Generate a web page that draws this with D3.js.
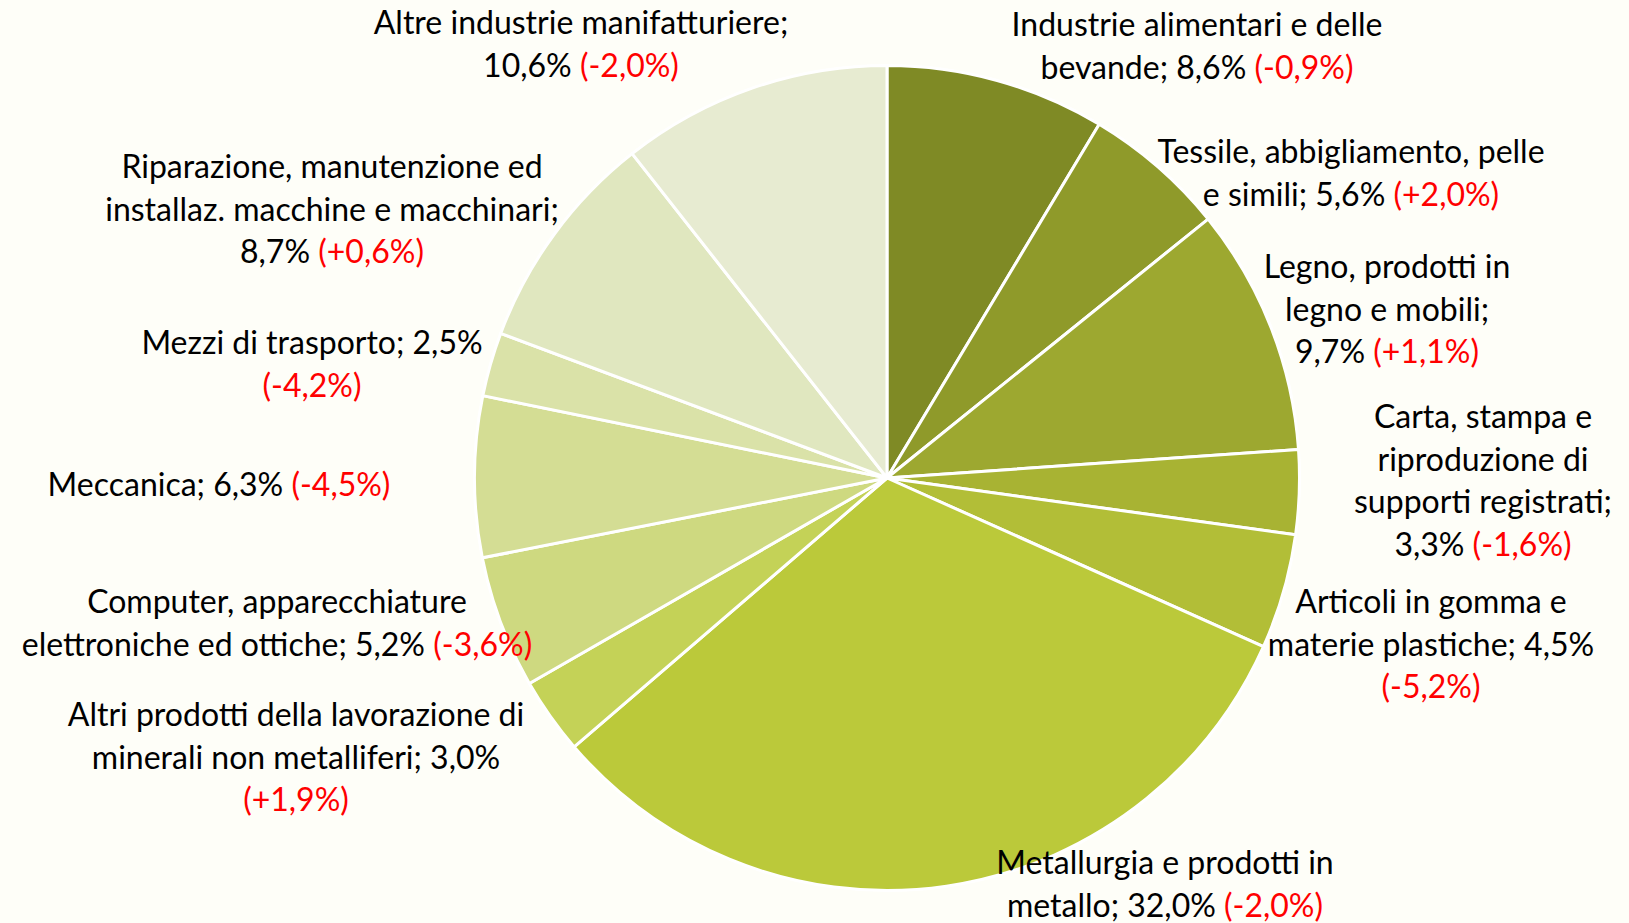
<!DOCTYPE html>
<html>
<head>
<meta charset="utf-8">
<script src="https://cdn.jsdelivr.net/npm/d3@7"></script>
<style>
  html, body { margin: 0; padding: 0; background: #FEFEF8; }
  svg { display: block; }
</style>
</head>
<body>
<svg id="chart" width="1629" height="923"></svg>
<script>
// ---- data ----
const categories = [
  "Industrie alimentari e delle bevande",
  "Tessile, abbigliamento, pelle e simili",
  "Legno, prodotti in legno e mobili",
  "Carta, stampa e riproduzione di supporti registrati",
  "Articoli in gomma e materie plastiche",
  "Metallurgia e prodotti in metallo",
  "Altri prodotti della lavorazione di minerali non metalliferi",
  "Computer, apparecchiature elettroniche ed ottiche",
  "Meccanica",
  "Mezzi di trasporto",
  "Riparazione, manutenzione ed installaz. macchine e macchinari",
  "Altre industrie manifatturiere"
];
const shares  = [8.6, 5.6, 9.7, 3.3, 4.5, 32.0, 3.0, 5.2, 6.3, 2.5, 8.7, 10.6];
const changes = [-0.9, 2.0, 1.1, -1.6, -5.2, -2.0, 1.9, -3.6, -4.5, -4.2, 0.6, -2.0];
const colors = ["#7F8A25", "#8F9A2A", "#9DA830", "#A8B333", "#B2BE37", "#BBC93A",
                "#C4D257", "#CED980", "#D4DD94", "#DAE2A8", "#E0E7BF", "#E7EBD1"];
// words per label line
const lineWordCounts = [[4,3],[3,4],[3,3,2],[3,2,2,2],[4,3,1],[4,3],[5,4,1],[2,5],[3],[4,1],[3,4,2],[3,2]];

// ---- layout ----
const W = 1629, H = 923;
const cx = 887, cy = 478, R = 412.5;
// label block centre (x) and first-line middle (y), relative to pie centre
const labelOffsets = [
  [310, -453], [464, -326], [500, -211], [596, -61], [544, 124], [278, 385],
  [-591, 237], [-610, 124], [-668, 7], [-575, -135], [-555, -311], [-306, -455]
];
const lineStep = 42.5;

const fmt = v => v.toFixed(1).replace(".", ",");
const fmtSigned = v => (v > 0 ? "+" : v < 0 ? "-" : "") + fmt(Math.abs(v));

const svg = d3.select("#chart");
svg.append("rect").attr("width", W).attr("height", H).attr("fill", "#FEFEF8");

const pie = d3.pie().sort(null).value(d => d)(shares);
const arc = d3.arc().innerRadius(0).outerRadius(R);

const g = svg.append("g").attr("transform", `translate(${cx},${cy})`);
g.selectAll("path.slice").data(pie).join("path")
  .attr("class", "slice")
  .attr("d", arc)
  .attr("fill", (d, i) => colors[i])
  .attr("stroke", "#FFFFFF")
  .attr("stroke-width", 3)
  .attr("stroke-linejoin", "round");

const fontFamily = "Lato, 'Open Sans', sans-serif";
const fontSize = 32;

const labels = svg.append("g").attr("font-family", fontFamily).attr("font-size", fontSize);
categories.forEach((name, i) => {
  const words = (name + "; " + fmt(shares[i]) + "% (" + fmtSigned(changes[i]) + "%)").split(" ");
  const lines = [];
  let k = 0;
  lineWordCounts[i].forEach(n => { lines.push(words.slice(k, k + n)); k += n; });
  const lx = cx + labelOffsets[i][0], ly = cy + labelOffsets[i][1];
  const t = labels.append("text").attr("text-anchor", "middle");
  lines.forEach((ws, li) => {
    const last = li === lines.length - 1;
    const blackWords = last ? ws.slice(0, -1) : ws;
    const tsp = t.append("tspan").attr("x", lx).attr("y", ly + li * lineStep).attr("dy", "0.35em")
      .attr("fill", "#000000");
    if (blackWords.length) {
      tsp.text(blackWords.join(" ") + (last ? " " : ""));
      if (last) t.append("tspan").attr("fill", "#FF0000").text(ws[ws.length - 1]);
    } else {
      tsp.attr("fill", "#FF0000").text(ws[ws.length - 1]);
    }
  });
});
</script>
</body>
</html>
